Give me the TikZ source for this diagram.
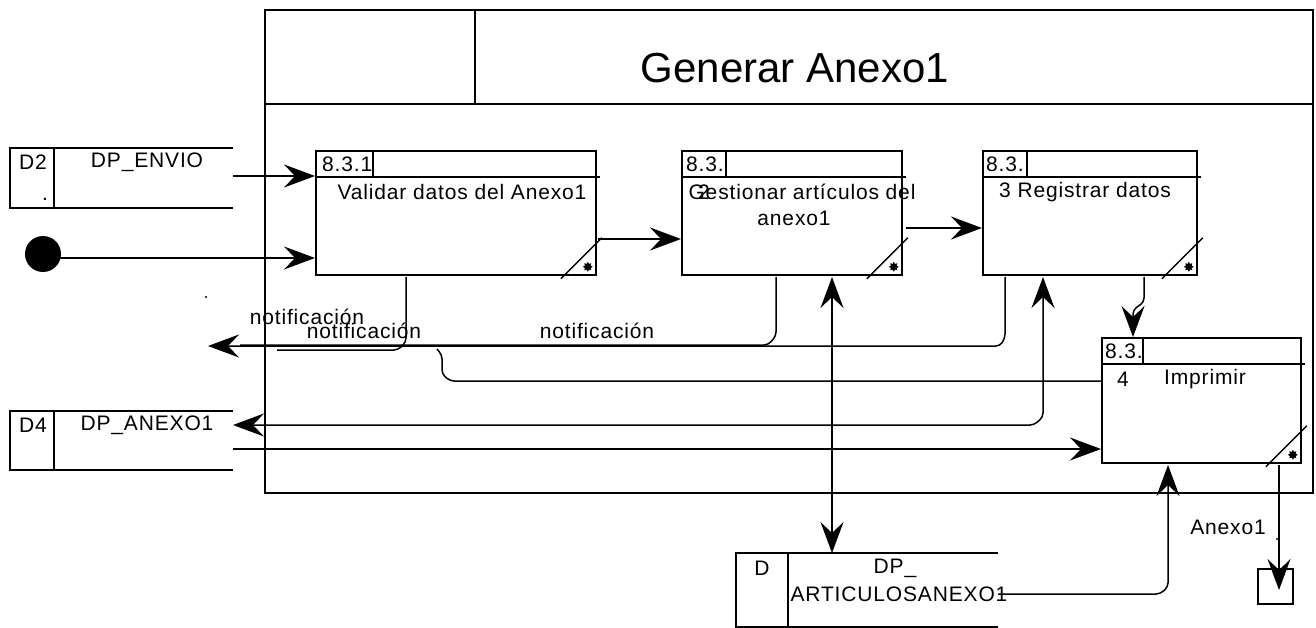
\documentclass[tikz,border=0pt]{standalone}
\usepackage{fontspec}
\setmainfont{Liberation Sans}[LetterSpace=4]
\newfontfamily\titlefont{Liberation Sans}
\usetikzlibrary{arrows.meta,calc,shapes.geometric}
\begin{document}
\begin{tikzpicture}[x=1pt,y=-1pt,
  line join=miter,
  frame/.style={line width=1.9pt},
  procbox/.style={draw,rectangle,line width=1.8pt,inner sep=0pt,anchor=north west},
  wire/.style={line width=1.5pt},
  flow/.style={line width=1.5pt,-{Stealth[length=31pt,width=23pt,inset=11pt]}},
  bothflow/.style={line width=1.5pt,{Stealth[length=31pt,width=23pt,inset=11pt]}-{Stealth[length=31pt,width=23pt,inset=11pt]}},
  txt/.style={font=\fontsize{21}{24}\selectfont,inner sep=0pt},
  mark8/.style={star,star points=8,star point ratio=1.6,fill,draw,line width=0.4pt,minimum size=9pt,inner sep=0pt}
]
\useasboundingbox (0,0) rectangle (1316,628);

% ---- outer frame with title header ----
\draw[frame] (265,10) rectangle (1313,493);
\draw[frame] (265,104) -- (1313,104);
\draw[frame] (475,10) -- (475,104);
\node[inner sep=0pt,font=\titlefont\fontsize{42}{46}\selectfont] (title) at (795,68) {Generar Anexo1};

% ---- processes ----
\node[procbox,minimum width=280pt,minimum height=124pt] (p1) at (315,150) {};
\node[procbox,minimum width=220pt,minimum height=124pt] (p2) at (681,150) {};
\node[procbox,minimum width=214pt,minimum height=124pt] (p3) at (982,150) {};
\node[procbox,minimum width=199pt,minimum height=125pt] (p4) at (1101,337) {};

% header rule, number cell, diagonal and mark of each process
\foreach \p/\d in {p1/58,p2/45,p3/45,p4/42}{
  \draw[line width=1.6pt] ($(\p.north west)+(0,27)$) -- ($(\p.north east)+(3,27)$);
  \draw[line width=1.6pt] ($(\p.north west)+(\d,0)$) -- ($(\p.north west)+(\d,27)$);
  \draw[line width=1.5pt] ($(\p.south east)+(-36,3)$) -- ($(\p.south east)+(5,-38)$);
  \node[mark8] at ($(\p.south east)+(-9,-9)$) {};
}
\node[txt,anchor=west] (n1) at ($(p1.north west)+(7,14)$) {8.3.1};
\node[txt,anchor=west] (n2) at ($(p2.north west)+(5,14)$) {8.3.};
\node[txt,anchor=west] (n3) at ($(p3.north west)+(4,14)$) {8.3.};
\node[txt,anchor=west] (n4) at ($(p4.north west)+(4,14)$) {8.3.};

\node[txt] (t1) at (462,192) {Validar datos del Anexo1};
\node[txt] (t2a) at (802,192) {Gestionar artículos del};
\node[txt] (t2n) at (704,192) {2};
\node[txt] (t2b) at (794,218) {anexo1};
\node[txt] (t3) at (1085,192) {3 Registrar datos};
\node[txt] (t4n) at (1123,379) {4};
\node[txt] (t4) at (1205,379) {Imprimir};

% ---- data stores (open on the right) ----
\coordinate (d2) at (10,148);
\draw[line width=1.5pt] (233,148) -- (10,148) -- (10,208) -- (233,208);
\draw[line width=1.5pt] (54,148) -- (54,208);
\node[txt] (d2id) at (33,162) {D2};
\node[txt] (d2dot) at (45,199) {.};
\node[txt] (d2name) at (147,162) {DP\_ENVIO};

\coordinate (d4) at (10,411);
\draw[line width=1.5pt] (233,411) -- (10,411) -- (10,470) -- (233,470);
\draw[line width=1.5pt] (54,411) -- (54,470);
\node[txt] (d4id) at (33,425) {D4};
\node[txt] (d4name) at (147,425) {DP\_ANEXO1};

\coordinate (da) at (736,553);
\draw[line width=1.5pt] (998,553) -- (736,553) -- (736,627) -- (998,627);
\draw[line width=1.5pt] (788,553) -- (788,627);
\node[txt] (daid) at (762,568) {D};
\node[txt] (daname1) at (895,568) {DP\_};
\node[txt] (daname2) at (899,594) {ARTICULOSANEXO1};

% ---- external entity and output terminal ----
\node[circle,fill,inner sep=0pt,minimum size=36pt] (src) at (43,254) {};
\node[draw,line width=1.5pt,rectangle,inner sep=0pt,minimum size=35pt] (out) at (1275.5,586.5) {};

% ---- flows ----
\draw[flow] (233,176) -- (p1.west |- 0,176);
\draw[flow] (60,258) -- (p1.west |- 0,258);
\draw[flow] (598,239) -- (p2.west |- 0,239);
\draw[flow] (906,228) -- (p3.west |- 0,228);
\draw[flow,rounded corners=4pt] (1144,277) -- (1144,302) -- (1133,310) -- (1133,337);

% notifications
\draw[flow,rounded corners=4pt] (1005,277) -- (1005,338) -- (1000,346) -- (208,346);
\draw[wire,rounded corners=4pt] (776,277) -- (776,336) -- (768,345) -- (240,345);
\draw[wire,rounded corners=4pt] (406,277) -- (406,342) -- (398,350) -- (277,350);
\draw[wire,rounded corners=4pt] (p4.west |- 0,381) -- (450,381) -- (442,374) -- (442,355) -- (437,349);
\node[txt] (lab1) at (307,317) {notificación};
\node[txt] (lab2) at (364,331) {notificación};
\node[txt] (lab3) at (597,331) {notificación};
\fill (206,297) circle (1.2pt);

% store exchanges
\draw[bothflow] (832,277) -- (832,553);
\draw[bothflow,rounded corners=4pt] (233,425) -- (1034,425) -- (1043,417) -- (1043,277);
\draw[flow] (233,449) -- (p4.west |- 0,449);
\draw[flow,rounded corners=4pt] (998,594) -- (1160,594) -- (1168,587) -- (1168,465);

% printed output
\draw[flow] (1279,465) -- (1279,590);
\node[txt] (lab4) at (1228,527) {Anexo1};
\fill (1277,539) circle (1.2pt);
\end{tikzpicture}
\end{document}
